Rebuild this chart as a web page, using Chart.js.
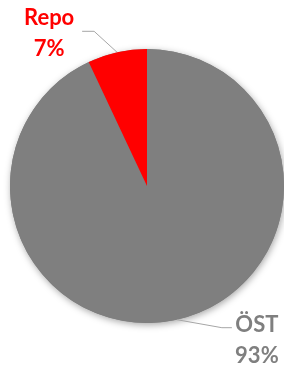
<!DOCTYPE html>
<html>
<head>
<meta charset="utf-8">
<script src="https://cdn.jsdelivr.net/npm/chart.js@4"></script>
<style>
  html, body { margin: 0; padding: 0; background: #fff; }
  #wrap { width: 284px; height: 365px; }
</style>
</head>
<body>
<div id="wrap"><canvas id="chart"></canvas></div>
<script>
// ── Data ──────────────────────────────────────────
const labels = ['ÖST', 'Repo'];
const values = [93, 7];
const sliceColors = ['#7f7f7f', '#ff0000'];
const labelColors = ['#7f7f7f', '#ff0000'];

// ── Label placement (leader elbow + text anchor, relative to slice edge point) ──
const labelLayout = [
  { elbow: [45, 8], end: [55, 8], text: [80, 12] },
  { elbow: [-23, -21], end: [-35, -21], text: [-68, -27] }
];

// ── Shadow behind the pie ─────────────────────────
const pieShadow = {
  id: 'pieShadow',
  beforeDatasetsDraw(chart) {
    const arc = chart.getDatasetMeta(0).data[0];
    const ctx = chart.ctx;
    ctx.save();
    ctx.shadowColor = 'rgba(0,0,0,0.35)';
    ctx.shadowBlur = 7;
    ctx.shadowOffsetX = 1;
    ctx.shadowOffsetY = 2;
    ctx.fillStyle = '#7f7f7f';
    ctx.beginPath();
    ctx.arc(arc.x, arc.y, arc.outerRadius, 0, Math.PI * 2);
    ctx.fill();
    ctx.restore();
  }
};

// ── Labels with leader lines ──────────────────────
const pieLabels = {
  id: 'pieLabels',
  afterDatasetsDraw(chart) {
    const ctx = chart.ctx;
    const total = values.reduce((a, b) => a + b, 0);
    chart.getDatasetMeta(0).data.forEach((arc, i) => {
      const mid = (arc.startAngle + arc.endAngle) / 2;
      const px = arc.x + Math.cos(mid) * arc.outerRadius;
      const py = arc.y + Math.sin(mid) * arc.outerRadius;
      const lay = labelLayout[i];

      ctx.save();
      ctx.strokeStyle = '#a6a6a6';
      ctx.lineWidth = 1;
      ctx.beginPath();
      ctx.moveTo(px, py);
      ctx.lineTo(px + lay.elbow[0], py + lay.elbow[1]);
      ctx.lineTo(px + lay.end[0], py + lay.end[1]);
      ctx.stroke();

      ctx.fillStyle = labelColors[i];
      ctx.font = 'bold 22px Lato';
      ctx.textAlign = 'center';
      ctx.textBaseline = 'alphabetic';
      const tx = px + lay.text[0];
      const ty = py + lay.text[1];
      ctx.fillText(labels[i], tx, ty);
      ctx.fillText(Math.round(values[i] / total * 100) + '%', tx, ty + 31);
      ctx.restore();
    });
  }
};

// ── Chart ─────────────────────────────────────────
new Chart(document.getElementById('chart'), {
  type: 'pie',
  data: {
    labels: labels,
    datasets: [{
      data: values,
      backgroundColor: sliceColors,
      borderWidth: 0
    }]
  },
  options: {
    responsive: true,
    maintainAspectRatio: false,
    animation: false,
    layout: { padding: { left: 10, right: 0, top: 49, bottom: 42 } },
    plugins: {
      legend: { display: false },
      tooltip: { enabled: false }
    }
  },
  plugins: [pieShadow, pieLabels]
});
</script>
</body>
</html>
